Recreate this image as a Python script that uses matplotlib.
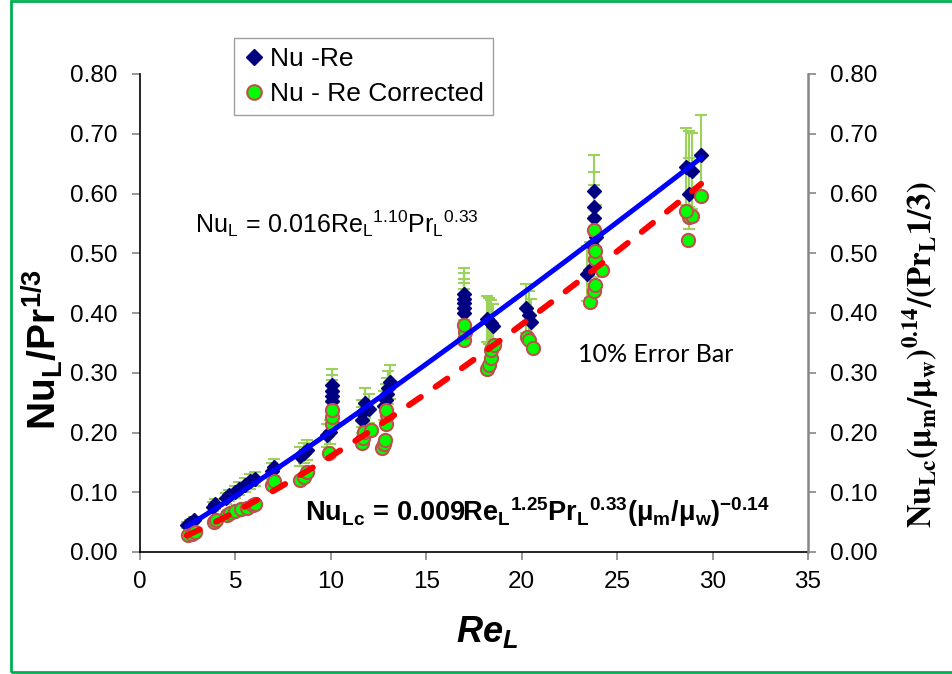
import numpy as np
import matplotlib
matplotlib.use("Agg")
import matplotlib.pyplot as plt
from matplotlib.lines import Line2D
from matplotlib.patches import Rectangle

plt.rcParams["font.family"] = ["Liberation Sans", "DejaVu Sans"]
plt.rcParams["mathtext.fontset"] = "custom"
plt.rcParams["mathtext.rm"] = "Liberation Sans"
plt.rcParams["mathtext.it"] = "Liberation Sans:italic"
plt.rcParams["mathtext.bf"] = "Liberation Sans:bold"
plt.rcParams["mathtext.bfit"] = "Liberation Sans:italic:bold"

# Nu - Re (uncorrected)
re_raw = [2.45, 2.6, 2.85, 3.8, 3.95, 4.5, 4.65, 5.0, 5.2, 5.5, 5.75, 6.0,
          6.9, 7.0, 8.4, 8.6, 8.75, 9.8, 9.95, 10.05, 10.05, 10.05, 10.05,
          11.65, 11.65, 11.8, 12.0, 12.8, 12.9, 12.95, 13.0, 13.1,
          17.0, 17.0, 17.0, 17.0, 17.0, 18.2, 18.3, 18.4, 18.5,
          20.2, 20.4, 20.5, 23.4, 23.6, 23.8, 23.8, 23.8, 23.9, 23.8,
          28.6, 28.75, 28.9, 28.75, 29.4]
nu_raw = [0.045, 0.048, 0.054, 0.076, 0.080, 0.090, 0.095, 0.100, 0.106, 0.112, 0.118, 0.122,
          0.135, 0.142, 0.160, 0.166, 0.171, 0.195, 0.201, 0.252, 0.261, 0.270, 0.279,
          0.221, 0.232, 0.249, 0.240, 0.245, 0.255, 0.265, 0.275, 0.285,
          0.400, 0.409, 0.416, 0.424, 0.432, 0.390, 0.386, 0.383, 0.378,
          0.408, 0.397, 0.385, 0.466, 0.472, 0.511, 0.559, 0.578, 0.528, 0.604,
          0.645, 0.641, 0.637, 0.600, 0.665]

# Nu - Re corrected for viscosity
re_cor = [2.5, 2.7, 2.9, 3.9, 4.0, 4.55, 4.7, 5.0, 5.3, 5.6, 5.9, 6.0,
          6.9, 7.0, 8.4, 8.6, 8.75, 9.9, 10.05, 10.05, 10.05,
          11.65, 11.7, 11.75, 12.1, 12.7, 12.8, 12.85, 12.9, 12.95, 12.9,
          17.0, 17.05, 17.0, 18.2, 18.3, 18.4, 18.4, 18.55,
          20.3, 20.4, 20.6, 23.6, 23.8, 23.85, 24.2, 23.85, 23.85, 23.8,
          28.7, 28.75, 28.9, 28.6, 29.4]
nu_cor = [0.028, 0.030, 0.034, 0.050, 0.053, 0.062, 0.066, 0.068, 0.072, 0.074, 0.078, 0.080,
          0.112, 0.118, 0.120, 0.126, 0.134, 0.165, 0.215, 0.226, 0.238,
          0.182, 0.190, 0.201, 0.204, 0.174, 0.180, 0.187, 0.215, 0.229, 0.238,
          0.355, 0.369, 0.380, 0.307, 0.313, 0.324, 0.338, 0.346,
          0.360, 0.355, 0.341, 0.419, 0.436, 0.447, 0.472, 0.490, 0.503, 0.539,
          0.522, 0.560, 0.562, 0.570, 0.595]

# trendline coefficients printed on the chart
fit_raw = (0.016, 1.10)
fit_cor = (0.009, 1.25)
re_range = (2.45, 29.4)
error_frac = 0.10

x_ticks = [0, 5, 10, 15, 20, 25, 30, 35]
y_ticks = [0.0, 0.1, 0.2, 0.3, 0.4, 0.5, 0.6, 0.7, 0.8]

W, H = 953, 674
fig = plt.figure(figsize=(W / 100, H / 100), dpi=100)
ax = fig.add_axes([140 / W, 122 / H, 668 / W, 478 / H])

re_raw = np.array(re_raw)
nu_raw = np.array(nu_raw)

ax.errorbar(re_raw, nu_raw, yerr=error_frac * nu_raw, fmt="none",
            ecolor="#9BD35A", elinewidth=1.5, capsize=4, capthick=1.5, zorder=2)
ax.plot(re_raw, nu_raw, "D", color="#000080", markersize=7, linestyle="none", zorder=3)
ax.plot(re_cor, nu_cor, "o", markerfacecolor="#00FF00", markeredgecolor="#C0504D",
        markeredgewidth=1.5, markersize=9.5, linestyle="none", zorder=4)

xs = np.linspace(re_range[0], re_range[1], 200)
ax.plot(xs, fit_raw[0] * xs ** fit_raw[1], color="#0000FF", lw=3.6,
        solid_capstyle="round", zorder=5)
red, = ax.plot(xs, fit_cor[0] * xs ** fit_cor[1], color="#FF0000", lw=4.3,
               dash_capstyle="round", zorder=6)
red.set_dashes((2.4, 3.0))

ax.set_xlim(0, 35)
ax.set_ylim(0, 0.8)
ax.set_xticks(x_ticks)
ax.set_yticks(y_ticks)
ax.set_yticklabels([f"{v:.2f}" for v in y_ticks])
ax.spines["top"].set_visible(False)
ax.spines["right"].set_visible(False)
ax.spines["left"].set_linewidth(1.2)
ax.spines["bottom"].set_linewidth(1.2)
ax.tick_params(axis="both", direction="out", length=6, width=1.2,
               color="#868686", labelsize=17.5)
ax.tick_params(axis="y", pad=10)
ax.tick_params(axis="x", pad=8)

ax2 = ax.twinx()
ax2.set_ylim(0, 0.8)
ax2.set_yticks(y_ticks)
ax2.set_yticklabels([f"{v:.2f}" for v in y_ticks])
for side in ["top", "left", "bottom"]:
    ax2.spines[side].set_visible(False)
ax2.spines["right"].set_color("#868686")
ax2.spines["right"].set_linewidth(1.8)
ax2.tick_params(axis="y", direction="out", length=6, width=1.2,
                color="#868686", labelsize=17.5, pad=10)

# axis titles
fig.text(487 / W, 1 - 632 / H, r"$\mathbfit{Re_L}$", fontsize=26,
         ha="center", va="center")
fig.text(42 / W, 1 - 350 / H, r"$\mathbf{Nu_L/Pr^{1/3}}$", fontsize=28,
         rotation=90, ha="center", va="center")
fig.text(921 / W, 1 - 355 / H,
         r"$\mathbf{Nu_{Lc}(μ_m/μ_w)^{0.14}/(Pr_L1/3)}$", fontsize=23.5,
         rotation=90, ha="center", va="center", math_fontfamily="stix")

# equations and note
fig.text(195 / W, 1 - 233 / H,
         r"$\mathrm{Nu_L\,=\,0.016Re_L{}^{1.10}Pr_L{}^{0.33}}$",
         fontsize=18, ha="left", va="baseline")
fig.text(305 / W, 1 - 521 / H,
         r"$\mathbf{Nu_{Lc}\,=\,0.009Re_L{}^{1.25}Pr_L{}^{0.33}(μ_m/μ_w)^{-0.14}}$",
         fontsize=19.5, ha="left", va="baseline")
fig.text(578 / W, 1 - 355 / H, "10% Error Bar", fontsize=18,
         family=["Lato", "DejaVu Sans"], ha="left", va="center")

handles = [
    Line2D([], [], marker="D", color="#000080", markersize=8, linestyle="none"),
    Line2D([], [], marker="o", markerfacecolor="#00FF00", markeredgecolor="#C0504D",
           markeredgewidth=1.5, markersize=10.5, linestyle="none"),
]
leg = fig.legend(handles, ["Nu -Re", "Nu - Re Corrected"], loc="upper left",
                 bbox_to_anchor=(234 / W, 1 - 38 / H), fontsize=19,
                 frameon=True, fancybox=False, edgecolor="#868686",
                 handlelength=0.8, handletextpad=0.2, labelspacing=0.4,
                 borderpad=0.35, borderaxespad=0)
leg.get_frame().set_linewidth(1.0)

fig.patches.append(Rectangle((11 / W, 2 / H), 1.1, 0.996, transform=fig.transFigure,
                             fill=False, edgecolor="#00B050", linewidth=2))

fig.savefig("out.png", dpi=100)
